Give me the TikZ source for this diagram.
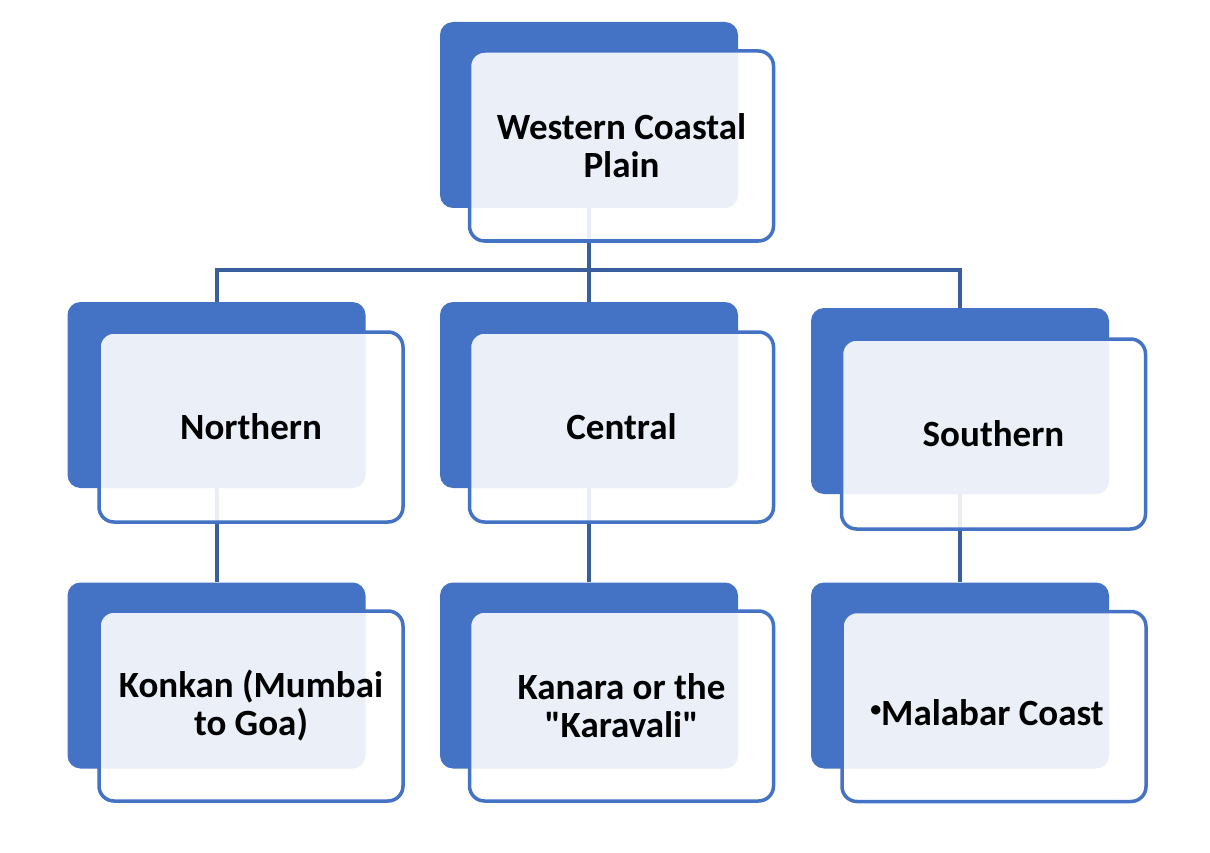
\documentclass[tikz,border=0pt]{standalone}
\usepackage{fontspec}
\newfontfamily\cfont{Carlito}
\definecolor{accent}{HTML}{4472C4}
\definecolor{connc}{HTML}{3A5D9C}
\begin{document}
\begin{tikzpicture}[x=1pt,y=-1pt,
  backbox/.style={fill=accent, draw=none, rounded corners=13pt, minimum width=298pt, minimum height=186pt, inner sep=0pt},
  frontbox/.style={fill=white, fill opacity=0.89, text opacity=1, draw=accent, line width=3.5pt, rounded corners=15pt, minimum width=304pt, minimum height=190pt, inner sep=0pt, align=center, font=\cfont\fontsize{37}{38}\selectfont\bfseries},
  txt/.style={align=center, inner sep=0pt, font=\cfont\fontsize{37}{38}\selectfont\bfseries},
  conn/.style={draw=connc, line width=4pt}]
\useasboundingbox (0,0) rectangle (1210,853);
% back boxes
\node[backbox] (wcpb) at (589,115) {};
\node[backbox] (nb) at (216.5,395) {};
\node[backbox] (cb) at (589,395) {};
\node[backbox] (sb) at (960,401) {};
\node[backbox] (kb) at (216.5,675.5) {};
\node[backbox] (kab) at (589,675.5) {};
\node[backbox] (mb) at (960,675.5) {};
% connectors
\coordinate (hl) at (0,270);
\draw[conn] (wcpb.south) -- (wcpb.south |- hl) -| (nb.north);
\draw[conn] (wcpb.south) -- (cb.north);
\draw[conn] (wcpb.south |- hl) -| (sb.north);
\draw[conn] (nb.south) -- (kb.north);
\draw[conn] (cb.south) -- (kab.north);
\draw[conn] (sb.south) -- (mb.north);
% front boxes
\node[frontbox] (wcp) at (621.5,146) {Western Coastal\\Plain};
\node[frontbox] (n) at (251,427) {Northern};
\node[frontbox] (c) at (621.5,427) {Central};
\node[frontbox] (s) at (993.5,434) {Southern};
\node[frontbox] (k) at (251,706) {Konkan (Mumbai\\to Goa)};
\node[frontbox] (ka) at (621.5,706) {Kanara or the\\"Karavali"};
\node[frontbox] (m) at (994,706.5) {};
\node[txt] (mt) at (987,713) {\raisebox{9pt}{\fontsize{22}{22}\selectfont •}Malabar Coast};
\end{tikzpicture}
\end{document}
